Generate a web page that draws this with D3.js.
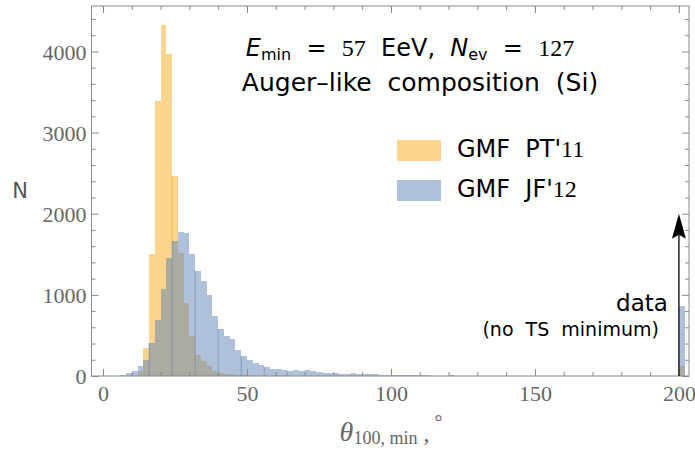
<!DOCTYPE html>
<html>
<head>
<meta charset="utf-8">
<script src="https://cdn.jsdelivr.net/npm/d3@7"></script>
<style>
	body { margin: 0; background: #fff; }
	.tick text { font-family: "Liberation Serif", serif; font-size: 22px; fill: #666; }
	.tick line { stroke: #888; }
	.sans { font-family: "DejaVu Sans", sans-serif; }
	.serif { font-family: "Liberation Serif", serif; }
</style>
</head>
<body>
<svg id="chart" width="695" height="450"></svg>
<script>

// histogram counts, bins of 2 degrees
const binWidth = 2;

const ptStart = 10;   // GMF PT'11
const ptCounts = [5, 66, 343, 1504, 3390, 4328, 3966, 2466, 1517, 900, 493, 259, 185, 123, 66, 41, 30, 22, 15, 10, 8, 5, 4, 3, 2, 2];

const jfStart = 4;    // GMF JF'12
const jfCounts = [5, 12, 40, 66, 127, 197, 405, 690, 1070, 1457, 1667, 1776, 1760, 1500, 1297, 1173, 999, 740, 580, 490,
	458, 318, 250, 195, 165, 130, 115, 85, 85, 75, 62, 68, 65, 72, 58, 45, 38, 35, 32, 30,
	28, 40, 25, 30, 26, 26, 18, 15, 14, 12, 10, 9, 8, 10, 7, 6, 6, 5, 8, 5,
	4, 4, 3, 5, 3, 2, 3, 2, 2, 3, 2, 1, 2, 1];

// the observed data bin (no TS minimum)
const dataBin = 200;
const dataCounts = [127, 863];   // [PT'11, JF'12]
const dataArrowTo = 2000;

const xMajor = [0, 50, 100, 150, 200];
const yMajor = [0, 1000, 2000, 3000, 4000];

const legendNames = ["GMF  PT'", "GMF  JF'"];
const legendYears = ["11", "12"];

const orange = "#fbd58e";
const blue = "#5e81b5";

const svg = d3.select("#chart");

const x = d3.scaleLinear().domain([-4, 203.5]).range([91.5, 689]);
const y = d3.scaleLinear().domain([0, 4560]).range([376, 6]);

function toBins(start, counts) {
	return counts.map((n, i) => ({lo: start + i * binWidth, n: n}));
}
const ptBins = toBins(ptStart, ptCounts).concat([{lo: dataBin, n: dataCounts[0]}]);
const jfBins = toBins(jfStart, jfCounts).concat([{lo: dataBin, n: dataCounts[1]}]);

function drawBars(bins, fill, opacity) {
	svg.append("g")
		.attr("shape-rendering", "crispEdges")
		.selectAll("rect")
		.data(bins)
		.enter()
		.append("rect")
			.attr("x", d => x(d.lo))
			.attr("width", d => x(d.lo + binWidth) - x(d.lo))
			.attr("y", d => y(d.n))
			.attr("height", d => y(0) - y(d.n))
			.style("fill", fill)
			.style("fill-opacity", opacity);
}

drawBars(ptBins, orange, 1);
drawBars(jfBins, blue, 0.5);

// faint edge seams the original renderer left every few bins
const seams = jfBins.filter(d => d.lo >= 16 && d.lo <= 64 && (d.lo - 16) % 8 == 0);
svg.append("g")
	.selectAll("line")
	.data(seams)
	.enter()
	.append("line")
		.attr("x1", d => x(d.lo)).attr("x2", d => x(d.lo))
		.attr("y1", y(0)).attr("y2", d => y(d.n))
		.style("stroke", blue).style("stroke-opacity", 0.55).style("stroke-width", 1);
svg.append("line")
	.attr("x1", x(24)).attr("x2", x(24))
	.attr("y1", y(1667)).attr("y2", y(2466))
	.style("stroke", "#f2b64f").style("stroke-width", 1);

// axes: ticks on all four sides, pointing inward
const xMinor = d3.range(0, 201, 10).filter(v => xMajor.indexOf(v) < 0);
const yMinor = d3.range(0, 4501, 200).filter(v => yMajor.indexOf(v) < 0);

function frameAxis(axisFn, scale, transform, major, minor, labels) {
	const g = svg.append("g").attr("transform", transform);
	g.call(axisFn(scale).tickValues(major).tickSizeInner(-7).tickSizeOuter(0).tickPadding(5)
		.tickFormat(labels ? d3.format("d") : ""));
	g.call(gg => gg.select(".domain").remove());
	const g2 = svg.append("g").attr("transform", transform);
	g2.call(axisFn(scale).tickValues(minor).tickSizeInner(-4).tickSizeOuter(0).tickFormat(""));
	g2.select(".domain").remove();
	return g;
}

const bottom = frameAxis(d3.axisBottom, x, "translate(0," + y(0) + ")", xMajor, xMinor, true);
bottom.selectAll(".tick text").attr("dy", "0.9em");
frameAxis(d3.axisTop, x, "translate(0," + y.range()[1] + ")", xMajor, xMinor, false);
const left = frameAxis(d3.axisLeft, y, "translate(" + x.range()[0] + ",0)", yMajor, yMinor, true);
left.selectAll(".tick text").attr("dy", "0.35em");
frameAxis(d3.axisRight, y, "translate(" + x.range()[1] + ",0)", yMajor, yMinor, false);

svg.append("rect")
	.attr("x", x.range()[0]).attr("y", y.range()[1])
	.attr("width", x.range()[1] - x.range()[0])
	.attr("height", y.range()[0] - y.range()[1])
	.style("fill", "none").style("stroke", "#888").style("stroke-width", 1);

// axis titles
svg.append("text").attr("class", "sans")
	.attr("x", 20).attr("y", 198)
	.attr("text-anchor", "middle")
	.style("font-size", "21px").style("fill", "#555")
	.text("N");

const xt = svg.append("text").attr("class", "serif")
	.attr("x", 391).attr("y", 441)
	.attr("text-anchor", "middle")
	.style("fill", "#666");
xt.append("tspan").style("font-style", "italic").style("font-size", "28px").text("θ");
xt.append("tspan").style("font-size", "18px").attr("dy", 3).text("100, min");
xt.append("tspan").style("font-size", "24px").attr("dy", -3).text(" ,");
xt.append("tspan").style("font-size", "20px").attr("dy", -12).text(" °");

// annotation text
const t1 = svg.append("text").attr("class", "sans")
	.attr("x", 410).attr("y", 56)
	.attr("text-anchor", "middle")
	.style("font-size", "24px").style("fill", "#000");
t1.append("tspan").style("font-style", "italic").text("E");
t1.append("tspan").style("font-size", "16px").attr("dy", 4).text("min");
t1.append("tspan").attr("dy", -4).style("white-space", "pre").text("  =  ");
t1.append("tspan").attr("class", "serif").text("57");
t1.append("tspan").style("white-space", "pre").text("  EeV,  ");
t1.append("tspan").style("font-style", "italic").text("N");
t1.append("tspan").style("font-size", "16px").attr("dy", 4).text("ev");
t1.append("tspan").attr("dy", -4).style("white-space", "pre").text("  =  ");
t1.append("tspan").attr("class", "serif").text("127");

svg.append("text").attr("class", "sans")
	.attr("x", 420).attr("y", 91)
	.attr("text-anchor", "middle")
	.style("font-size", "25px").style("fill", "#000")
	.style("white-space", "pre")
	.text("Auger\u2013like  composition  (Si)");

// legend
const legend = svg.append("g").attr("transform", "translate(397,140)");
const legendFill = [orange, "#afc0da"];
legendNames.forEach((name, i) => {
	legend.append("rect")
		.attr("x", 0).attr("y", i * 40)
		.attr("width", 44).attr("height", 21)
		.style("fill", legendFill[i]);
	const lt = legend.append("text").attr("class", "sans")
		.attr("x", 60).attr("y", i * 40 + 17)
		.style("font-size", "24px").style("white-space", "pre");
	lt.append("tspan").text(name);
	lt.append("tspan").attr("class", "serif").text(legendYears[i]);
});

// arrow marking the data value
svg.append("line")
	.attr("x1", x(dataBin)).attr("x2", x(dataBin))
	.attr("y1", y(0)).attr("y2", y(dataArrowTo) + 20)
	.style("stroke", "#000").style("stroke-width", 1.3);
svg.append("path")
	.attr("d", "M" + x(dataBin) + "," + y(dataArrowTo)
		+ " L" + (x(dataBin) - 7) + "," + (y(dataArrowTo) + 25)
		+ " L" + x(dataBin) + "," + (y(dataArrowTo) + 21)
		+ " L" + (x(dataBin) + 7) + "," + (y(dataArrowTo) + 25) + " Z")
	.style("fill", "#000");

svg.append("text").attr("class", "sans")
	.attr("x", x(dataBin) - 11).attr("y", 311)
	.attr("text-anchor", "end")
	.style("font-size", "23px")
	.text("data");
svg.append("text").attr("class", "sans")
	.attr("x", x(dataBin) - 20).attr("y", 336)
	.attr("text-anchor", "end")
	.style("font-size", "19px").style("white-space", "pre")
	.text("(no  TS  minimum)");

</script>
</body>
</html>
